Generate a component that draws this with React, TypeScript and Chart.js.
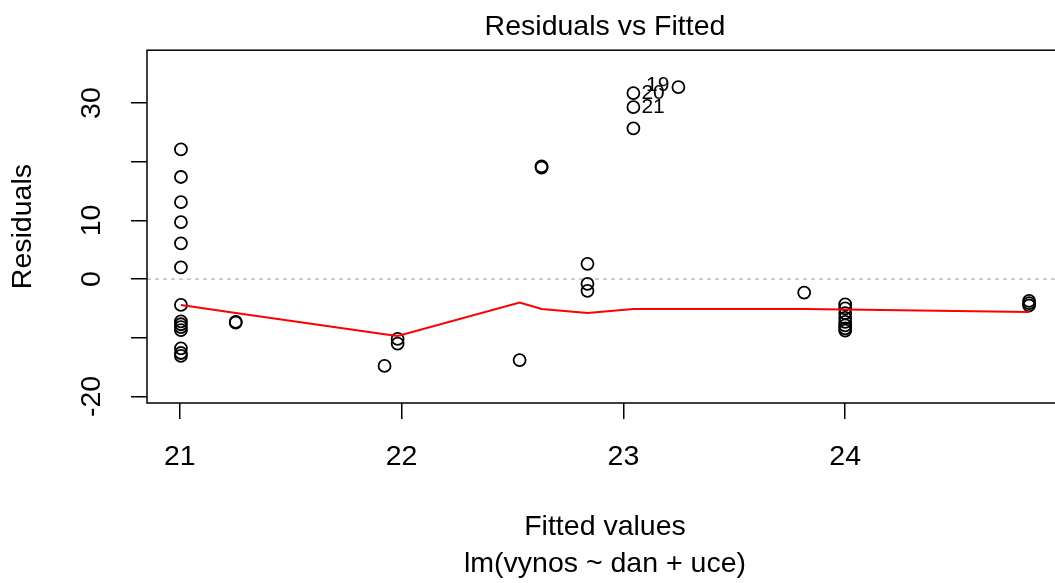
import React, { useEffect, useRef } from "react";
import { Chart, registerables } from "chart.js";

Chart.register(...registerables);

// Fitted values (x) and residuals (y), one entry per observation
const fittedX = [
  21.005, 21.005, 21.005, 21.005, 21.005, 21.005, 21.005, 21.005, 21.005, 21.005, 21.005, 21.005, 21.005, 21.005,
  21.252, 21.252,
  21.923,
  21.982, 21.982,
  22.532,
  22.631, 22.631,
  22.838, 22.838, 22.838,
  23.045, 23.045, 23.045,
  23.248,
  23.815,
  24.0, 24.0, 24.0, 24.0, 24.0, 24.0, 24.0, 24.0,
  24.829, 24.829, 24.829,
];
const residualY = [
  22.1, 17.4, 13.1, 9.7, 6.1, 2.0, -4.4, -7.2, -7.7, -8.2, -8.7, -11.8, -12.6, -13.1,
  -7.3, -7.4,
  -14.8,
  -10.2, -11.0,
  -13.8,
  19.2, 19.0,
  2.6, -0.8, -2.0,
  31.7, 29.3, 25.7,
  32.7,
  -2.3,
  -4.3, -5.0, -5.8, -6.6, -7.3, -7.9, -8.4, -8.8,
  -3.7, -4.1, -4.5,
];

// Lowess smoother (red line)
const lowessX = [21.005, 21.252, 21.923, 21.982, 22.532, 22.631, 22.838, 23.045, 23.248, 23.815, 24.0, 24.829];
const lowessY = [-4.4, -5.8, -9.4, -9.7, -4.0, -5.1, -5.8, -5.1, -5.1, -5.1, -5.2, -5.6];

// Labelled observations
const idLabels = ["19", "20", "21"];
const idX = [23.248, 23.045, 23.045];
const idY = [32.7, 31.7, 29.3];

// Axes
const xLimits = [20.852, 24.982];
const yLimits = [-21.12, 39.01];
const xTicks = [21, 22, 23, 24];
const yTicks = [-20, -10, 0, 10, 20, 30];
const yTickLabels = [-20, 0, 10, 30];

const FONT = '"Liberation Sans", Arial, Helvetica, sans-serif';

const boxPlugin = {
  id: "rbox",
  afterDraw(chart: any) {
    const { ctx, chartArea } = chart;
    const { left, top, right, bottom } = chartArea;
    ctx.save();
    ctx.strokeStyle = "#000";
    ctx.lineWidth = 1.5;
    ctx.strokeRect(left, top, right - left, bottom - top);
    ctx.restore();
  },
};

const idLabelPlugin = {
  id: "idLabels",
  afterDatasetsDraw(chart: any) {
    const { ctx } = chart;
    const xs = chart.scales.x;
    const ys = chart.scales.y;
    const mid = (Math.min(...idX) + Math.max(...idX)) / 2;
    ctx.save();
    ctx.font = `21px ${FONT}`;
    ctx.fillStyle = "#000";
    ctx.textBaseline = "middle";
    idLabels.forEach((t, i) => {
      const px = xs.getPixelForValue(idX[i]);
      const py = ys.getPixelForValue(idY[i]);
      if (idX[i] > mid) {
        ctx.textAlign = "right";
        ctx.fillText(t, px - 9, py - 2);
      } else {
        ctx.textAlign = "left";
        ctx.fillText(t, px + 8, py);
      }
    });
    ctx.restore();
  },
};

export default function App() {
  const ref = useRef<HTMLCanvasElement | null>(null);

  useEffect(() => {
    if (!ref.current) return;
    const points = fittedX.map((x, i) => ({ x, y: residualY[i] }));
    const lowess = lowessX.map((x, i) => ({ x, y: lowessY[i] }));
    const zero = [
      { x: xLimits[0], y: 0 },
      { x: xLimits[1], y: 0 },
    ];
    const tickGrid = {
      display: true,
      drawOnChartArea: false,
      drawTicks: true,
      tickLength: 16,
      color: "#000",
      lineWidth: 1.5,
    };
    const chart = new Chart(ref.current, {
      type: "scatter",
      data: {
        datasets: [
          {
            label: "lowess",
            data: lowess,
            showLine: true,
            borderColor: "#ff0000",
            borderWidth: 2,
            pointRadius: 0,
            fill: false,
          } as any,
          {
            label: "residuals",
            data: points,
            pointStyle: "circle",
            pointRadius: 6,
            borderWidth: 1.8,
            borderColor: "#000",
            backgroundColor: "rgba(0,0,0,0)",
          } as any,
          {
            label: "zero",
            data: zero,
            showLine: true,
            borderColor: "#bebebe",
            borderWidth: 1.5,
            borderDash: [4, 4],
            pointRadius: 0,
            fill: false,
          } as any,
        ],
      },
      options: {
        animation: false,
        responsive: false,
        layout: { autoPadding: false, padding: { left: 0, right: 12, top: 0, bottom: 0 } },
        plugins: {
          legend: { display: false },
          tooltip: { enabled: false },
          title: {
            display: true,
            fullSize: false,
            text: "Residuals vs Fitted",
            color: "#000",
            font: { family: FONT, size: 28.5, weight: "normal" },
            padding: { top: 10, bottom: 6 },
          },
        },
        scales: {
          x: {
            type: "linear",
            position: "bottom",
            min: xLimits[0],
            max: xLimits[1],
            afterBuildTicks: (s: any) => {
              s.ticks = xTicks.map((v) => ({ value: v }));
            },
            afterFit: (s: any) => {
              s.height = 180;
              s.paddingLeft = 0;
              s.paddingRight = 0;
            },
            grid: tickGrid,
            border: { display: false },
            ticks: {
              color: "#000",
              padding: 21,
              maxRotation: 0,
              font: { family: FONT, size: 28.5 },
              callback: (v: any) => String(v),
            },
            title: {
              display: true,
              text: ["Fitted values", "lm(vynos ~ dan + uce)"],
              color: "#000",
              font: { family: FONT, size: 28.5, lineHeight: 1.3 },
              padding: { top: 0, bottom: 0 },
            },
          },
          y: {
            type: "linear",
            position: "left",
            min: yLimits[0],
            max: yLimits[1],
            afterBuildTicks: (s: any) => {
              s.ticks = yTicks.map((v) => ({ value: v }));
            },
            afterFit: (s: any) => {
              s.width = 147;
            },
            grid: tickGrid,
            border: { display: false },
            ticks: {
              color: "#000",
              padding: 18,
              minRotation: 90,
              maxRotation: 90,
              crossAlign: "center",
              font: { family: FONT, size: 28.5 },
              callback: (v: any) => (yTickLabels.includes(v) ? String(v) : ""),
            },
            title: {
              display: true,
              text: "Residuals",
              color: "#000",
              font: { family: FONT, size: 28.5 },
              padding: { top: 6, bottom: 0 },
            },
          },
        },
      } as any,
      plugins: [boxPlugin, idLabelPlugin],
    });
    return () => chart.destroy();
  }, []);

  return (
    <div style={{ position: "fixed", left: 0, top: 0, width: 1055, height: 583, background: "#fff", overflow: "hidden" }}>
      <canvas ref={ref} width={1075} height={583} style={{ display: "block" }} />
    </div>
  );
}
